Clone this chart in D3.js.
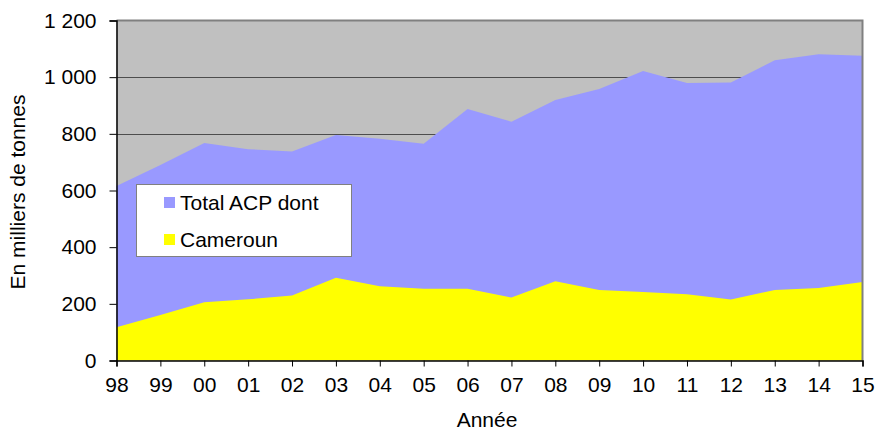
<!DOCTYPE html>
<html>
<head>
<meta charset="utf-8">
<script src="https://cdn.jsdelivr.net/npm/d3@7"></script>
<style>
  html, body { margin: 0; padding: 0; background: #fff; }
  svg { display: block; }
  text { font-family: "Liberation Sans", Arial, sans-serif; fill: #000; }
</style>
</head>
<body>
<svg id="chart" width="881" height="431"></svg>
<script>
const years = ["98","99","00","01","02","03","04","05","06","07","08","09","10","11","12","13","14","15"];
const totalACP = [616, 690, 768, 746, 738, 796, 783, 765, 888, 843, 919, 958, 1022, 979, 981, 1060, 1081, 1076];
const cameroun = [117, 161, 206, 216, 229, 292, 262, 253, 253, 222, 280, 249, 242, 234, 215, 249, 256, 277];
const yTicks = [0, 200, 400, 600, 800, 1000, 1200];
const seriesNames = ["Total ACP dont", "Cameroun"];
const seriesColors = ["#9999FF", "#FFFF00"];

const FS = 21;
const svg = d3.select("#chart");
const m = { left: 116.5, top: 20.5, right: 862.5, bottom: 360.5 };

const x = d3.scalePoint().domain(years).range([m.left, m.right]);
const y = d3.scaleLinear().domain([0, 1200]).range([m.bottom, m.top]);

// plot background
svg.append("rect")
  .attr("x", m.left).attr("y", m.top)
  .attr("width", m.right - m.left).attr("height", m.bottom - m.top)
  .attr("fill", "#C0C0C0");

// gridlines
svg.append("g").selectAll("line")
  .data(yTicks.filter(d => d > 0 && d < 1200))
  .join("line")
  .attr("x1", m.left).attr("x2", m.right)
  .attr("y1", d => Math.round(y(d)) + 0.5).attr("y2", d => Math.round(y(d)) + 0.5)
  .attr("stroke", "#4d4d4d").attr("stroke-width", 1);

const fmt = d => d3.format(",")(d).replace(/,/g, " ");

const area = vals => d3.area()
  .x((d, i) => x(years[i]))
  .y0(y(0))
  .y1(d => y(d))(vals);

svg.append("path").attr("d", area(totalACP)).attr("fill", seriesColors[0]);
svg.append("path").attr("d", area(cameroun)).attr("fill", seriesColors[1]);

// top and right border
svg.append("path")
  .attr("d", `M${m.left},${m.top}H${m.right}V${m.bottom}`)
  .attr("fill", "none").attr("stroke", "#808080").attr("stroke-width", 2);

// y axis
const yAxis = d3.axisLeft(y).tickValues(yTicks).tickSize(7).tickPadding(13).tickFormat(fmt);
const gy = svg.append("g").attr("transform", `translate(${m.left},0)`).call(yAxis);
gy.select(".domain").attr("stroke", "#000").attr("stroke-width", 1.5);
gy.selectAll(".tick line").attr("stroke", "#000");
gy.selectAll(".tick text").attr("font-size", FS).attr("font-family", "Liberation Sans, Arial, sans-serif").attr("fill", "#000");

// x axis
const xAxis = d3.axisBottom(x).tickSize(6).tickPadding(11);
const gx = svg.append("g").attr("transform", `translate(0,${m.bottom})`).call(xAxis);
gx.select(".domain").attr("stroke", "#000").attr("stroke-width", 1.5);
gx.selectAll(".tick line").attr("stroke", "#000");
gx.selectAll(".tick text").attr("font-size", FS).attr("font-family", "Liberation Sans, Arial, sans-serif").attr("fill", "#000");

// axis titles
svg.append("text")
  .attr("transform", `translate(25,192) rotate(-90)`)
  .attr("text-anchor", "middle")
  .attr("font-size", FS)
  .text("En milliers de tonnes");

svg.append("text")
  .attr("x", 487).attr("y", 427)
  .attr("text-anchor", "middle")
  .attr("font-size", FS)
  .text("Année");

// legend
const lg = svg.append("g");
lg.append("rect")
  .attr("x", 136.5).attr("y", 184.5).attr("width", 215).attr("height", 72)
  .attr("fill", "#fff").attr("stroke", "#808080").attr("stroke-width", 1);
const items = lg.selectAll("g.item").data(seriesNames).join("g").attr("class", "item")
  .attr("transform", (d, i) => `translate(164,${197 + i * 37})`);
items.append("rect").attr("width", 11).attr("height", 11).attr("fill", (d, i) => seriesColors[i]);
items.append("text").attr("x", 16).attr("y", 12.5).attr("font-size", FS).text(d => d);
</script>
</body>
</html>
